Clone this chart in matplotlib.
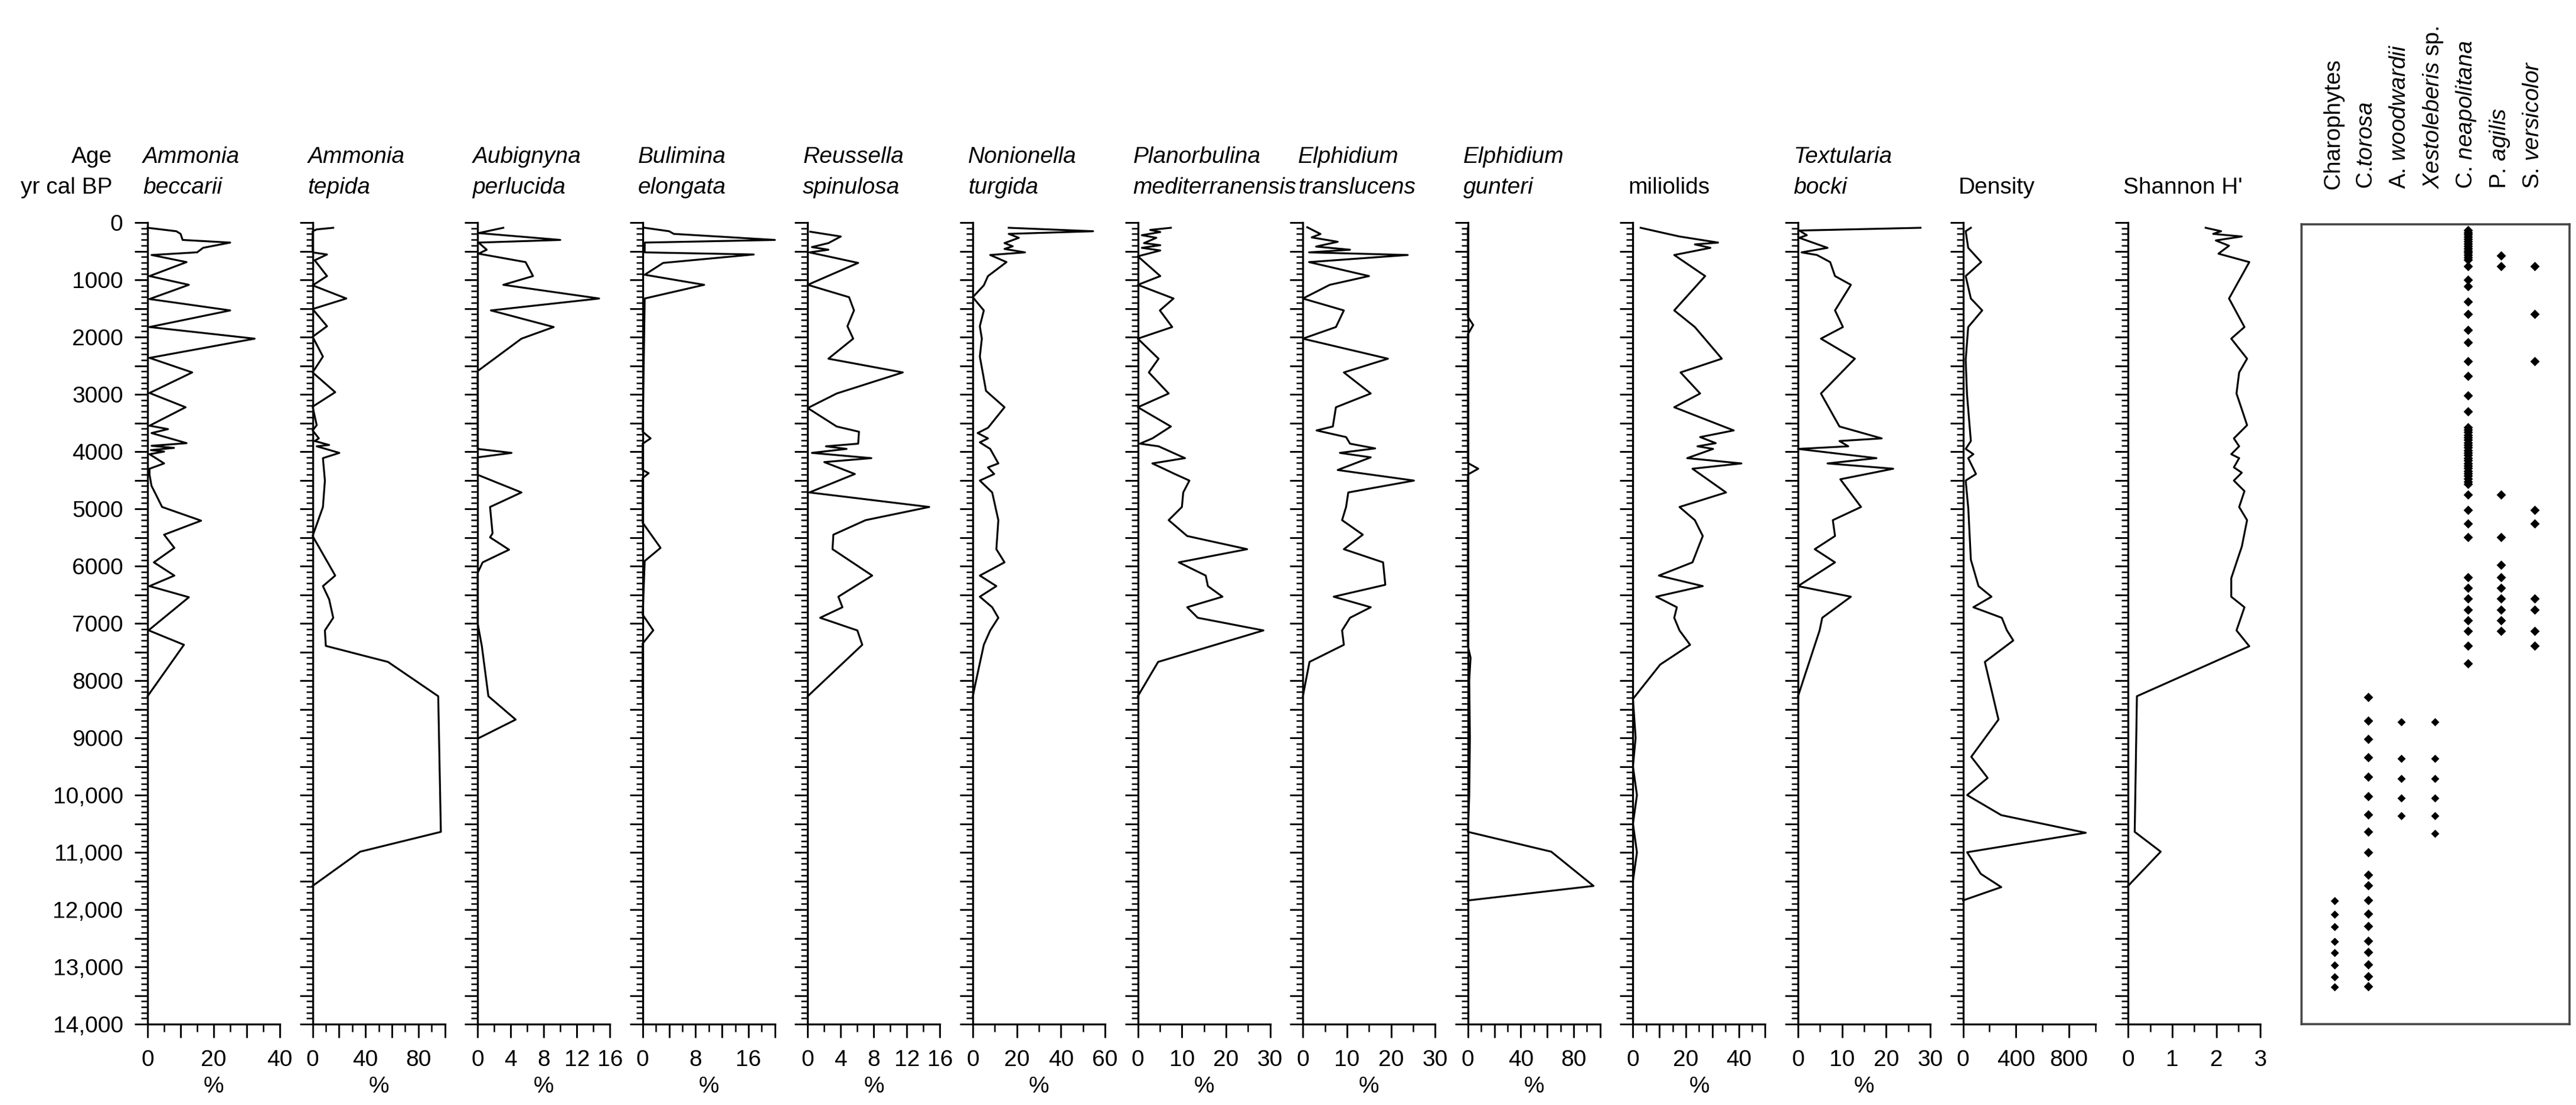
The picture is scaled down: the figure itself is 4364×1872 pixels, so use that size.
import matplotlib
matplotlib.use("Agg")
import matplotlib.pyplot as plt
from matplotlib.ticker import MultipleLocator, FuncFormatter
from matplotlib import transforms

plt.rcParams['font.family'] = ['Liberation Sans', 'DejaVu Sans']
plt.rcParams['mathtext.fontset'] = 'custom'
plt.rcParams['mathtext.rm'] = 'Liberation Sans'
plt.rcParams['mathtext.it'] = 'Liberation Sans:italic'

# ---- Data: age (yr cal BP) and value ----
beccarii_age = [92, 152, 198, 304, 350, 442, 520, 567, 691, 935, 1088, 1336, 1535, 1825, 2028, 2364,
                2618, 2977, 3226, 3548, 3608, 3677, 3853, 3899, 3936, 3975, 4000, 4046, 4207, 4300,
                4406, 4599, 4968, 5207, 5452, 5682, 5935, 6166, 6350, 6544, 7122, 7375, 8273]
beccarii_pct = [0, 8.7, 10, 10.6, 25, 16.8, 15, 1.2, 11.8, 0.6, 12.5, 0.6, 25, 0.6, 32.4, 0.6,
                13.5, 0.6, 11.5, 0.6, 6.2, 1.2, 11.8, 1.2, 8, 1, 5, 0.6, 5, 0.6,
                0.6, 1.2, 4.4, 16.2, 5, 8.1, 1.9, 8.1, 0.6, 12.5, 0.3, 11, 0]

tepida_age = [92, 120, 152, 521, 558, 659, 935, 1097, 1327, 1511, 1811, 1995, 2341, 2618, 2963, 3216,
              3539, 3631, 3770, 3816, 3885, 3908, 4023, 4115, 4507, 4968, 5475, 6166, 6350, 6581,
              6903, 7124, 7394, 7674, 8273, 10642, 10988, 11586]
tepida_pct = [15.6, 3.1, 0, 0, 10.9, 1.6, 10.9, 0, 25.5, 0, 10.9, 0, 7.8, 0, 17.1, 0,
              3.1, 0, 4.7, 1.6, 12.5, 3.1, 20.2, 7.8, 9.3, 7.8, 0, 17.1, 7.8, 12.5,
              15.6, 9.3, 10, 57, 95, 97, 36, 0]

aubignyna_age = [92, 184, 304, 350, 475, 544, 691, 935, 1088, 1327, 1535, 1825, 2028, 2594, 3954, 4023,
                 4101, 4406, 4714, 4968, 5429, 5498, 5714, 5935, 6120, 7000, 7394, 8273, 8681, 9014]
aubignyna_pct = [3.1, 0.1, 10, 0.1, 1.1, 0.1, 5.8, 6.7, 3.1, 14.7, 1.6, 9.2, 5.3, 0, 0, 4.1,
                 0, 0, 5.3, 1.5, 1.8, 1.5, 3.8, 0.6, 0, 0, 0.5, 1.3, 4.6, 0]

bulimina_age = [92, 152, 198, 304, 350, 521, 558, 705, 912, 1088, 1327, 3654, 3770, 3862, 4322, 4378,
                4461, 5244, 5682, 5912, 6850, 7122, 7352, 8273]
bulimina_pct = [0.3, 4, 4.7, 20, 0.3, 0.3, 16.8, 3.1, 0.3, 9.3, 0.3, 0, 1.2, 0, 0, 0.9,
                0, 0, 2.7, 0.3, 0, 1.6, 0, 0]

reussella_age = [160, 244, 359, 429, 475, 521, 705, 1088, 1304, 1535, 1811, 2028, 2378, 2618, 2986, 3240,
                 3562, 3654, 3862, 3908, 3954, 4023, 4115, 4184, 4392, 4714, 4968, 5198, 5452, 5705,
                 6166, 6535, 6719, 6903, 7124, 7375, 8273]
reussella_pct = [0.3, 4.0, 2.5, 0.5, 2.5, 0.2, 6.1, 0, 5.0, 5.6, 4.8, 5.5, 2.5, 11.5, 3.5, 0,
                 3.5, 6.2, 6.1, 2.2, 4.7, 0.5, 7.7, 2.0, 5.7, 0.2, 14.7, 7.0, 3.1, 3.0,
                 7.8, 3.7, 4.2, 1.5, 6.0, 6.6, 0]

nonionella_age = [92, 152, 198, 267, 359, 415, 461, 521, 567, 691, 935, 1097, 1304, 1535, 1811, 2028,
                  2341, 2940, 3226, 3585, 3677, 3770, 3839, 3954, 4207, 4276, 4392, 4507, 4714, 5198,
                  5705, 5935, 6166, 6350, 6535, 6719, 6903, 7124, 7375, 8000, 8273]
nonionella_pct = [16.3, 54.6, 16.3, 20.9, 14.4, 18.1, 14.4, 23.7, 7.9, 15.3, 6.9, 5.0, 0, 5.0, 3.2, 4.1,
                  3.2, 6.0, 14.4, 6.9, 2.2, 6.9, 3.2, 7.9, 11.6, 6.9, 9.7, 3.2, 8.8, 11.6,
                  10.7, 14.4, 3.2, 10.7, 3.2, 8.8, 11.6, 7.9, 5, 1.5, 0]

planorbulina_age = [92, 129, 166, 221, 267, 359, 396, 442, 488, 590, 935, 1088, 1327, 1535, 1825, 2028,
                    2378, 2618, 2986, 3226, 3562, 3770, 3862, 3908, 4115, 4207, 4392, 4507, 4714, 4968,
                    5198, 5475, 5705, 5935, 6166, 6350, 6535, 6719, 6903, 7124, 7674, 8273]
planorbulina_pct = [7.5, 2.8, 5.1, 0.9, 4.2, 1.4, 5.1, 0.9, 5.1, 0, 5.1, 0, 8.1, 5.0, 7.8, 0,
                    4.7, 2.5, 7, 0, 7.5, 3.3, 0.5, 4.7, 10.7, 3.3, 8.4, 11.7, 10.3, 10,
                    7, 11.2, 24.8, 9.3, 15.4, 15.9, 19.2, 11.2, 13.6, 28.5, 4.6, 0]

translucens_age = [83, 200, 260, 336, 420, 475, 521, 567, 691, 935, 1088, 1327, 1535, 1825, 2028, 2378,
                   2618, 2986, 3226, 3562, 3631, 3747, 3862, 3945, 4023, 4101, 4322, 4507, 4714, 4968,
                   5198, 5452, 5705, 5935, 6327, 6535, 6719, 6903, 7124, 7375, 7674, 8273]
translucens_pct = [1, 4, 2, 7.9, 3, 10.7, 1.4, 23.8, 1.4, 15, 6.1, 0, 9.3, 7.5, 0, 19.3,
                   9.3, 15.4, 7.5, 6.8, 3.1, 9.8, 10.7, 16.4, 8.4, 15.4, 7.9, 25.2, 10.3, 9.8,
                   8.9, 13.6, 9.3, 18.2, 18.7, 7, 15.4, 10.7, 8.9, 9.3, 1.5, 0]

gunteri_age = [92, 1650, 1790, 1950, 4200, 4300, 4400, 7400, 7600, 8000, 9000, 10000, 10642, 10988, 11586, 11840]
gunteri_pct = [0, 0, 4, 0, 0, 7.8, 0, 0, 2, 1, 1.5, 1, 0, 63, 95, 0]

miliolids_age = [92, 244, 350, 382, 442, 567, 935, 1535, 1825, 2378, 2618, 2986, 3226, 3631, 3747, 3853,
                 3908, 3954, 4115, 4207, 4300, 4714, 4968, 5198, 5475, 5935, 6166, 6350, 6535, 6719,
                 6903, 7124, 7375, 7720, 8320, 9000, 9500, 10000, 10500, 11000, 11500]
miliolids_pct = [2.9, 17.6, 32.2, 23.4, 29.3, 15.6, 27.3, 15.6, 23.4, 33.6, 18, 25.4, 15.6, 38.1, 25.4, 31.3,
                 24.4, 30.3, 20.5, 41, 22.5, 35.2, 17.6, 23.4, 26.4, 22.5, 9.8, 26.4, 8.8, 16.6,
                 15.6, 17.6, 21.6, 10.3, 0, 1, 0, 1.5, 0, 1.5, 0]

textularia_age = [92, 140, 221, 267, 442, 521, 567, 691, 935, 1088, 1535, 1825, 2028, 2378, 2986, 3562,
                  3770, 3816, 3908, 3954, 4115, 4207, 4300, 4484, 4968, 5198, 5475, 5705, 5935, 6350,
                  6535, 6903, 7124, 8273]
textularia_pct = [27.8, 0.3, 2, 0.3, 6.7, 0.8, 4.3, 7.3, 8.4, 12, 8.4, 10.2, 5.2, 12.9, 5.2, 9.4,
                  19, 9.4, 11.4, 0, 17.8, 6.7, 21.6, 9.6, 14.3, 7.9, 8.4, 3.8, 8.4, 0,
                  12, 5.5, 4.9, 0]

density_age = [92, 152, 442, 691, 935, 1327, 1535, 1825, 2400, 3000, 3816, 3954, 4046, 4115, 4392, 4507,
               5000, 5889, 6350, 6535, 6719, 6903, 7124, 7300, 7674, 8681, 9331, 9700, 10000, 10350,
               10658, 10998, 11375, 11607, 11839]
density_val = [59, 20, 39, 137, 20, 59, 145, 39, 20, 30, 59, 20, 78, 39, 98, 20,
               40, 59, 117, 215, 78, 293, 332, 380, 165, 268, 62, 186, 31, 289,
               928, 31, 134, 289, 0]

shannon_age = [92, 152, 198, 244, 313, 406, 544, 691, 1327, 1825, 2028, 2378, 2618, 2986, 3539, 3770,
               3908, 4046, 4115, 4276, 4369, 4507, 4691, 4968, 5198, 5659, 6212, 6535, 6719, 7124,
               7400, 8273, 10642, 10988, 11586]
shannon_val = [1.76, 2.11, 1.93, 2.58, 1.99, 2.29, 2.05, 2.75, 2.29, 2.64, 2.34, 2.7, 2.52, 2.46, 2.7, 2.4,
               2.52, 2.34, 2.52, 2.4, 2.58, 2.4, 2.64, 2.52, 2.7, 2.58, 2.34, 2.34, 2.64, 2.46,
               2.75, 0.2, 0.15, 0.74, 0]

# presence / absence (ages of samples where taxon occurs)
charophytes = [11836, 12079, 12296, 12550, 12748, 12964, 13171, 13346]
c_torosa = [8273, 8687, 9010, 9331, 9672, 10008, 10330, 10630, 10998, 11389, 11573, 11826, 12070,
            12287, 12540, 12738, 12954, 13161, 13336]
a_woodwardii = [8705, 9354, 9700, 10040, 10353]
xestoleberis = [8705, 9354, 9700, 10040, 10353, 10662]
c_neapolitana = [100, 140, 180, 220, 260, 300, 340, 380, 420, 460, 500, 540, 580, 625, 737, 974, 1089,
                 1357, 1568, 1852, 2062, 2394, 2657, 2999, 3272, 3551, 3595, 3640, 3685, 3730, 3775,
                 3820, 3865, 3910, 3955, 4000, 4045, 4090, 4135, 4180, 4225, 4270, 4315, 4360, 4405,
                 4450, 4500, 4550, 4734, 4997, 5234, 5481, 6181, 6365, 6549, 6749, 6928, 7117, 7375, 7690]
p_agilis = [550, 737, 4734, 5481, 5960, 6181, 6365, 6549, 6749, 6928, 7117]
s_versicolor = [737, 1568, 2394, 4997, 5234, 6549, 6749, 7117, 7375]

# ---- panel settings: (title lines, ages, values, xmax, long tick, short tick, labels, xlabel) ----
panels = [
    (["Ammonia", "beccarii"], beccarii_age, beccarii_pct, 40, 10, 5, [0, 20, 40], "%"),
    (["Ammonia", "tepida"], tepida_age, tepida_pct, 100, 20, 10, [0, 40, 80], "%"),
    (["Aubignyna", "perlucida"], aubignyna_age, aubignyna_pct, 16, 4, 2, [0, 4, 8, 12, 16], "%"),
    (["Bulimina", "elongata"], bulimina_age, bulimina_pct, 20, 4, 2, [0, 8, 16], "%"),
    (["Reussella", "spinulosa"], reussella_age, reussella_pct, 16, 4, 2, [0, 4, 8, 12, 16], "%"),
    (["Nonionella", "turgida"], nonionella_age, nonionella_pct, 60, 20, 10, [0, 20, 40, 60], "%"),
    (["Planorbulina", "mediterranensis"], planorbulina_age, planorbulina_pct, 30, 10, 5, [0, 10, 20, 30], "%"),
    (["Elphidium", "translucens"], translucens_age, translucens_pct, 30, 10, 5, [0, 10, 20, 30], "%"),
    (["Elphidium", "gunteri"], gunteri_age, gunteri_pct, 100, 20, 10, [0, 40, 80], "%"),
    ([None, "miliolids"], miliolids_age, miliolids_pct, 50, 10, 5, [0, 20, 40], "%"),
    (["Textularia", "bocki"], textularia_age, textularia_pct, 30, 10, 5, [0, 10, 20, 30], "%"),
    ([None, "Density"], density_age, density_val, 1000, 400, 200, [0, 400, 800], None),
    ([None, "Shannon H'"], shannon_age, shannon_val, 3, 1, 0.5, [0, 1, 2, 3], None),
]

presence_cols = [
    (r"Charophytes", charophytes, 2.6),
    (r"C.$\mathit{torosa}$", c_torosa, 3.0),
    (r"A. $\mathit{woodwardii}$", a_woodwardii, 2.6),
    (r"$\mathit{Xestoleberis}$ sp.", xestoleberis, 2.6),
    (r"C. $\mathit{neapolitana}$", c_neapolitana, 3.0),
    (r"P. $\mathit{agilis}$", p_agilis, 3.0),
    (r"S. $\mathit{versicolor}$", s_versicolor, 3.0),
]

W, H = 4364, 1872
fig = plt.figure(figsize=(W / 200, H / 200), dpi=200)
fig.patch.set_facecolor("white")

ax_bottom = 1 - 1735 / H
ax_height = (1735 - 377) / H
panel_w = 224 / W
FS = 14


def age_fmt(v, pos):
    if v % 1000 != 0:
        return ""
    v = int(v)
    return f"{v:,}" if v >= 10000 else str(v)


for i, (title, ages, vals, xmax, long_step, short_step, labels, xlabel) in enumerate(panels):
    x0 = 250 + i * 279.6
    ax = fig.add_axes([x0 / W, ax_bottom, panel_w, ax_height])
    ax.plot(vals, ages, color="black", lw=1.15, clip_on=False)
    ax.set_xlim(0, xmax)
    ax.set_ylim(14000, 0)
    for s in ["top", "right"]:
        ax.spines[s].set_visible(False)
    for s in ["left", "bottom"]:
        ax.spines[s].set_linewidth(1.2)

    ax.yaxis.set_major_locator(MultipleLocator(500))
    ax.yaxis.set_minor_locator(MultipleLocator(100))
    ax.yaxis.set_major_formatter(FuncFormatter(age_fmt))
    ax.tick_params(axis="y", which="major", direction="out", length=7.9, width=1.05, pad=7,
                   labelsize=FS, labelleft=(i == 0))
    ax.tick_params(axis="y", which="minor", direction="out", length=4.0, width=0.9)

    ax.xaxis.set_major_locator(MultipleLocator(long_step))
    ax.xaxis.set_minor_locator(MultipleLocator(short_step))
    ax.xaxis.set_major_formatter(FuncFormatter(
        lambda v, pos, labs=labels: (f"{v:g}" if any(abs(v - l) < 1e-9 for l in labs) else "")))
    ax.tick_params(axis="x", which="major", direction="out", length=8.3, width=1.05, pad=7,
                   labelsize=FS)
    ax.tick_params(axis="x", which="minor", direction="out", length=4.7, width=0.9)
    if xlabel:
        ax.set_xlabel(xlabel, fontsize=FS, labelpad=3.5)

    tx = (x0 - 8) / W
    if title[0]:
        fig.text(tx, 1 - 276 / H, title[0], fontsize=FS, style="italic", va="baseline", ha="left")
    kw = dict(fontsize=FS, va="baseline", ha="left")
    if title[1] not in ("miliolids", "Density", "Shannon H'"):
        kw["style"] = "italic"
    fig.text(tx, 1 - 328 / H, title[1], **kw)

fig.text(190 / W, 1 - 276 / H, "Age", fontsize=FS, ha="right", va="baseline")
fig.text(190 / W, 1 - 328 / H, "yr cal BP", fontsize=FS, ha="right", va="baseline")

# presence panel
axb = fig.add_axes([3899 / W, ax_bottom, (4353 - 3899) / W, (1735 - 380) / H])
axb.set_xlim(0, 8.05)
axb.set_ylim(14000, 0)
axb.set_xticks([])
axb.set_yticks([])
for s in axb.spines.values():
    s.set_linewidth(1.3)
    s.set_color("#444444")
trans = transforms.blended_transform_factory(axb.transData, fig.transFigure)
for k, (name, ages, ms) in enumerate(presence_cols):
    col = k + 1
    axb.plot([col] * len(ages), ages, linestyle="none", marker="D", ms=ms,
             color="black", mec="black", clip_on=False)
    axb.text(col - 0.05, 1 - 320 / H, name, transform=trans, rotation=90,
             ha="center", va="bottom", fontsize=FS)

fig.savefig("out.png", dpi=200, facecolor="white")
